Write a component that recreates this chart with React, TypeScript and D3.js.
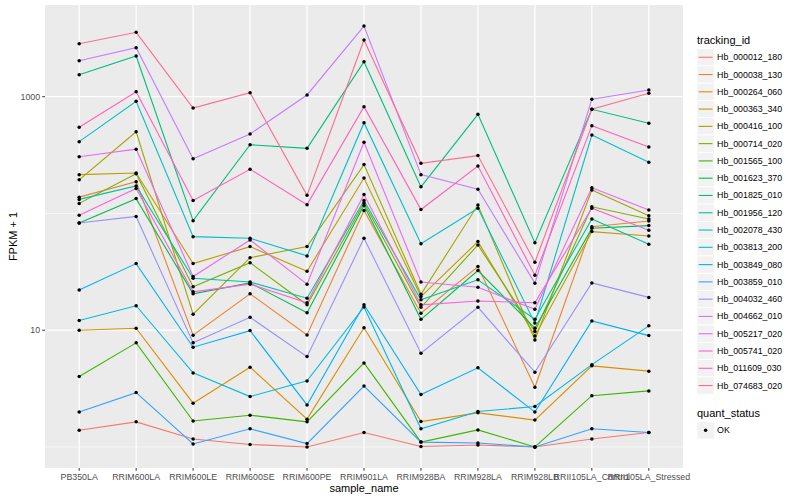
import * as d3 from 'd3'

// sample order on the x axis
const sampleNames = [
  'PB350LA',
  'RRIM600LA',
  'RRIM600LE',
  'RRIM600SE',
  'RRIM600PE',
  'RRIM901LA',
  'RRIM928BA',
  'RRIM928LA',
  'RRIM928LB',
  'RRII105LA_Control',
  'RRII105LA_Stressed',
]

const trackingIds = [
  'Hb_000012_180',
  'Hb_000038_130',
  'Hb_000264_060',
  'Hb_000363_340',
  'Hb_000416_100',
  'Hb_000714_020',
  'Hb_001565_100',
  'Hb_001623_370',
  'Hb_001825_010',
  'Hb_001956_120',
  'Hb_002078_430',
  'Hb_003813_200',
  'Hb_003849_080',
  'Hb_003859_010',
  'Hb_004032_460',
  'Hb_004662_010',
  'Hb_005217_020',
  'Hb_005741_020',
  'Hb_011609_030',
  'Hb_074683_020',
]

// ggplot default hue palette, 20 levels
const hueColors = [
  '#F8766D', '#EA8331', '#D89000', '#C09B00', '#A3A500',
  '#7CAE00', '#39B600', '#00BB4E', '#00BF7D', '#00C1A3',
  '#00BFC4', '#00BAE0', '#00B0F6', '#35A2FF', '#9590FF',
  '#C77CFF', '#E76BF3', '#FA62DB', '#FF62BC', '#FF6C91',
]

// FPKM + 1 per sample
const hb000012_180 = [1.39, 1.64, 1.17, 1.05, 1.0, 1.33, 1.01, 1.04, 1.0, 1.17, 1.33]
const hb000038_130 = [138, 187, 9.06, 20.5, 9.12, 106, 14.0, 35.1, 3.25, 77.1, 86.3]
const hb000264_060 = [10.0, 10.4, 2.37, 4.82, 1.73, 10.5, 1.65, 1.96, 1.70, 4.95, 4.46]
const hb000363_340 = [215, 222, 37.2, 52.0, 32.0, 201, 19.4, 57.4, 8.94, 69.9, 64.2]
const hb000416_100 = [194, 501, 13.7, 41.8, 52.0, 262, 20.3, 118, 8.26, 159, 95.8]
const hb000714_020 = [122, 219, 23.6, 37.9, 16.5, 123, 15.7, 53.7, 9.73, 114, 89.7]
const hb001565_100 = [4.01, 7.79, 1.67, 1.87, 1.64, 5.25, 1.10, 1.40, 1.0, 2.75, 3.02]
const hb001623_370 = [82.9, 134, 20.5, 25.4, 14.1, 117, 12.4, 32.4, 10.4, 74.7, 78.7]
const hb001825_010 = [1542, 2230, 86.8, 388, 361, 1994, 169, 707, 56.2, 780, 592]
const hb001956_120 = [132, 172, 27.9, 25.9, 18.8, 129, 18.2, 27.0, 12.4, 89.7, 54.5]
const hb002078_430 = [412, 914, 63.3, 61.3, 43.3, 599, 55.1, 111, 11.5, 470, 274]
const hb003813_200 = [12.1, 16.2, 4.31, 2.70, 3.68, 15.8, 1.43, 2.01, 2.22, 5.07, 10.9]
const hb003849_080 = [22.1, 37.2, 7.15, 9.92, 2.29, 16.5, 2.81, 4.76, 1.99, 12.0, 8.99]
const hb003859_010 = [1.99, 2.92, 1.06, 1.43, 1.07, 3.32, 1.10, 1.08, 1.0, 1.43, 1.33]
const hb004032_460 = [82.9, 94.3, 7.79, 12.9, 5.94, 61.3, 6.35, 15.7, 4.37, 25.4, 19.1]
const hb004662_010 = [2033, 2630, 294, 480, 1035, 4030, 215, 161, 25.3, 950, 1141]
const hb005217_020 = [306, 355, 28.8, 59.3, 24.8, 407, 25.9, 23.3, 15.1, 166, 107]
const hb005741_020 = [96.5, 164, 21.3, 24.8, 17.2, 145, 16.5, 17.8, 17.2, 111, 71.8]
const hb011609_030 = [547, 1104, 129, 239, 119, 821, 108, 255, 29.6, 565, 371]
const hb074683_020 = [2843, 3560, 800, 1082, 143, 3057, 269, 313, 38.2, 780, 1069]

const fpkmPlusOne = [
  hb000012_180, hb000038_130, hb000264_060, hb000363_340, hb000416_100,
  hb000714_020, hb001565_100, hb001623_370, hb001825_010, hb001956_120,
  hb002078_430, hb003813_200, hb003849_080, hb003859_010, hb004032_460,
  hb004662_010, hb005217_020, hb005741_020, hb011609_030, hb074683_020,
]

const majorBreaks = [10, 1000]
const minorBreaks = [1, 100]

const W = 800
const H = 500
const panel = { left: 45, right: 683, top: 5, bottom: 468 }
const font = '"Liberation Sans", Arial, Helvetica, sans-serif'

export default function App() {
  const logs = fpkmPlusOne.flat().map(Math.log10)
  const lo = d3.min(logs) as number
  const hi = d3.max(logs) as number
  const pad = (hi - lo) * 0.05

  const x = d3.scalePoint<string>().domain(sampleNames).range([panel.left, panel.right]).padding(0.6)
  const y = d3
    .scaleLog()
    .domain([10 ** (lo - pad), 10 ** (hi + pad)])
    .range([panel.bottom, panel.top])

  const line = d3
    .line<number>()
    .x((_, i) => x(sampleNames[i]) as number)
    .y((d) => y(d))

  const keySize = 17.28
  const keyX = 697
  const keyTop = 48.6
  const statusKeyTop = 421.7

  return (
    <svg
      width={W}
      height={H}
      style={{ position: 'absolute', left: 0, top: 0, background: '#fff' }}
      fontFamily={font}
    >
      <rect x={panel.left} y={panel.top} width={panel.right - panel.left} height={panel.bottom - panel.top} fill="#EBEBEB" />

      {/* grid */}
      {minorBreaks.map((b) => (
        <line key={'mn' + b} x1={panel.left} x2={panel.right} y1={y(b)} y2={y(b)} stroke="#fff" strokeWidth={0.6} />
      ))}
      {majorBreaks.map((b) => (
        <line key={'mj' + b} x1={panel.left} x2={panel.right} y1={y(b)} y2={y(b)} stroke="#fff" strokeWidth={1.2} />
      ))}
      {sampleNames.map((s) => (
        <line key={'vx' + s} x1={x(s)} x2={x(s)} y1={panel.top} y2={panel.bottom} stroke="#fff" strokeWidth={1.2} />
      ))}

      {/* lines */}
      {fpkmPlusOne.map((vals, i) => (
        <path key={trackingIds[i]} d={line(vals) as string} fill="none" stroke={hueColors[i]} strokeWidth={1.1} />
      ))}

      {/* points */}
      {fpkmPlusOne.map((vals, i) =>
        vals.map((v, j) => <circle key={i + '-' + j} cx={x(sampleNames[j])} cy={y(v)} r={1.75} fill="#000" />),
      )}

      {/* y axis */}
      {majorBreaks.map((b) => (
        <g key={'yt' + b}>
          <line x1={panel.left - 2.75} x2={panel.left} y1={y(b)} y2={y(b)} stroke="#333" strokeWidth={1} />
          <text x={panel.left - 4.9} y={y(b)} dy="0.33em" textAnchor="end" fontSize={8.8} fill="#4D4D4D">
            {b}
          </text>
        </g>
      ))}
      <text
        transform={`translate(17,${(panel.top + panel.bottom) / 2}) rotate(-90)`}
        textAnchor="middle"
        fontSize={11}
        fill="#000"
      >
        FPKM + 1
      </text>

      {/* x axis */}
      {sampleNames.map((s) => (
        <g key={'xt' + s}>
          <line x1={x(s)} x2={x(s)} y1={panel.bottom} y2={panel.bottom + 2.75} stroke="#333" strokeWidth={1} />
          <text x={x(s)} y={panel.bottom + 12.3} textAnchor="middle" fontSize={8.8} fill="#4D4D4D">
            {s}
          </text>
        </g>
      ))}
      <text x={(panel.left + panel.right) / 2} y={492} textAnchor="middle" fontSize={11} fill="#000">
        sample_name
      </text>

      {/* legend: tracking_id */}
      <text x={keyX} y={44.3} fontSize={11} fill="#000">
        tracking_id
      </text>
      {trackingIds.map((id, i) => {
        const top = keyTop + i * keySize
        return (
          <g key={'lg' + id}>
            <rect x={keyX} y={top} width={keySize} height={keySize} fill="#F2F2F2" stroke="#fff" strokeWidth={0.8} />
            <line
              x1={keyX + 1.7}
              x2={keyX + keySize - 1.7}
              y1={top + keySize / 2}
              y2={top + keySize / 2}
              stroke={hueColors[i]}
              strokeWidth={1.1}
            />
            <text x={keyX + keySize + 2.8} y={top + keySize / 2} dy="0.34em" fontSize={8.8} fill="#000">
              {id}
            </text>
          </g>
        )
      })}

      {/* legend: quant_status */}
      <text x={keyX} y={416.5} fontSize={11} fill="#000">
        quant_status
      </text>
      <rect x={keyX} y={statusKeyTop} width={keySize} height={keySize} fill="#F2F2F2" stroke="#fff" strokeWidth={0.8} />
      <circle cx={keyX + keySize / 2} cy={statusKeyTop + keySize / 2} r={1.75} fill="#000" />
      <text x={keyX + keySize + 2.8} y={statusKeyTop + keySize / 2} dy="0.34em" fontSize={8.8} fill="#000">
        OK
      </text>
    </svg>
  )
}
